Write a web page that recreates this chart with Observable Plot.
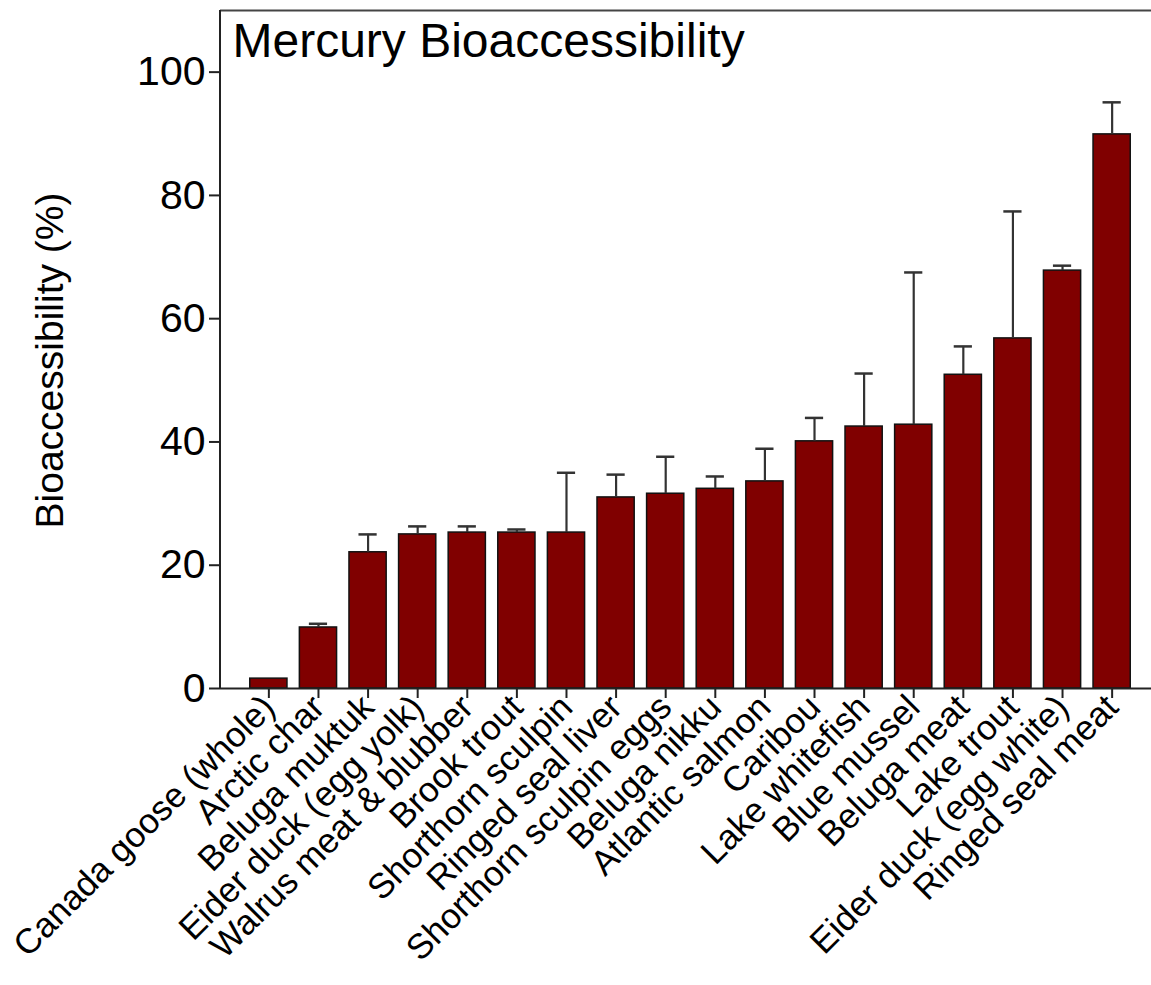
<!DOCTYPE html>
<html>
<head>
<meta charset="utf-8">
<script src="https://cdn.jsdelivr.net/npm/d3@7"></script>
<script src="https://cdn.jsdelivr.net/npm/@observablehq/plot@0.6"></script>
<style>
  html, body { margin: 0; padding: 0; background: #fff; }
  #chart svg { display: block; }
</style>
</head>
<body>
<div id="chart"></div>
<script>
const categories = [
  "Canada goose (whole)", "Arctic char", "Beluga muktuk", "Eider duck (egg yolk)",
  "Walrus meat & blubber", "Brook trout", "Shorthorn sculpin", "Ringed seal liver",
  "Shorthorn sculpin eggs", "Beluga nikku", "Atlantic salmon", "Caribou",
  "Lake whitefish", "Blue mussel", "Beluga meat", "Lake trout",
  "Eider duck (egg white)", "Ringed seal meat"
];
const values = [1.6, 9.9, 22.1, 25.0, 25.3, 25.3, 25.3, 31.0, 31.6, 32.4, 33.6, 40.1, 42.5, 42.8, 50.9, 56.8, 67.8, 89.9];
const errors = [0, 0.6, 2.9, 1.3, 1.0, 0.5, 9.7, 3.7, 6.0, 2.0, 5.3, 3.8, 8.6, 24.7, 4.6, 20.6, 0.8, 5.2];
const yTicks = [0, 20, 40, 60, 80, 100];
const title = "Mercury Bioaccessibility";
const yLabel = "Bioaccessibility (%)";

const data = categories.map((name, i) => ({name, value: values[i], upper: values[i] + errors[i], err: errors[i]}));
const withErr = data.filter(d => d.err > 0);

const W = 1151, H = 985;
const mL = 220, mT = 10, mB = 297;
const font = "'Liberation Sans', Arial, sans-serif";

const leftLine = (index, scales, values, dims) => {
  const l = document.createElementNS("http://www.w3.org/2000/svg", "line");
  l.setAttribute("x1", dims.marginLeft); l.setAttribute("x2", dims.marginLeft);
  l.setAttribute("y1", dims.marginTop); l.setAttribute("y2", dims.height - dims.marginBottom);
  l.setAttribute("stroke", "#222"); l.setAttribute("stroke-width", 2);
  return l;
};

const chart = Plot.plot({
  width: W, height: H,
  marginLeft: mL, marginTop: mT, marginBottom: mB, marginRight: 0,
  style: {fontFamily: font, color: "#000", background: "#fff", overflow: "hidden"},
  x: {domain: categories, range: [mL, 1160], paddingInner: 0.25, paddingOuter: 0.6, round: false, label: null},
  y: {domain: [0, 110], label: null},
  marks: [
    Plot.barY(data, {x: "name", y: "value", fill: "#800000", stroke: "#111", strokeWidth: 1.5}),
    Plot.ruleX(withErr, {x: "name", y1: "value", y2: "upper", stroke: "#333", strokeWidth: 2.2}),
    Plot.tickY(withErr, {x: "name", y: "upper", stroke: "#333", strokeWidth: 2.5, insetLeft: 9.5, insetRight: 9.5}),
    Plot.ruleY([0], {stroke: "#222", strokeWidth: 2}),
    Plot.ruleY([110], {stroke: "#444", strokeWidth: 2}),
    leftLine,
    Plot.axisY({ticks: yTicks, tickSize: 11, tickPadding: 4, fontSize: 41, stroke: "#222", strokeWidth: 2, label: null}),
    Plot.axisX({tickRotate: -45, tickSize: 10, tickPadding: 3, fontSize: 35, stroke: "#222", strokeWidth: 2, label: null}),
    Plot.text([title], {frameAnchor: "top-left", dx: 12, dy: 12, lineAnchor: "top", textAnchor: "start", fontSize: 48, fill: "#000"}),
    Plot.text([yLabel], {frameAnchor: "left", rotate: -90, dx: -170, dy: 11, textAnchor: "middle", fontSize: 39, fill: "#000"})
  ]
});
document.getElementById("chart").appendChild(chart);
</script>
</body>
</html>
